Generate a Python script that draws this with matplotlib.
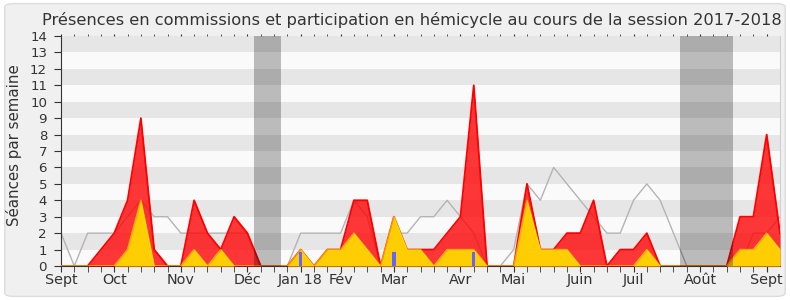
import matplotlib
matplotlib.use("Agg")
import matplotlib.pyplot as plt
from matplotlib.patches import FancyBboxPatch
import numpy as np

# weekly values, session 2017-2018 (week 0 = first week of Sept 2017)
weeks = list(range(55))
commission = [0, 0, 0, 1, 2, 4, 9, 1, 0, 0, 4, 2, 1, 3, 2, 0, 0, 0, 1, 0,
              1, 1, 4, 4, 0, 3, 1, 1, 1, 2, 3, 11, 0, 0, 0, 5, 1, 1, 2, 2,
              4, 0, 1, 1, 2, 0, 0, 0, 0, 0, 0, 3, 3, 8, 2]
hemicycle = [0, 0, 0, 0, 0, 1, 4, 0, 0, 0, 1, 0, 1, 0, 0, 0, 0, 0, 1, 0,
             1, 1, 2, 1, 0, 3, 1, 1, 0, 1, 1, 1, 0, 0, 0, 4, 1, 1, 1, 0,
             0, 0, 0, 0, 1, 0, 0, 0, 0, 0, 0, 1, 1, 2, 1]
median = [2, 0, 2, 2, 2, 3, 4, 3, 3, 2, 2, 2, 2, 2, 2, 0, 0, 0, 2, 2,
          2, 2, 4, 3, 0, 2, 2, 3, 3, 4, 3, 2, 0, 0, 1, 5, 4, 6, 5, 4,
          3, 2, 2, 4, 5, 4, 2, 0, 0, 0, 0, 0, 2, 2, 3]
question_weeks = [18, 25, 31]
question_heights = [0.87, 0.87, 0.87]
holidays = [(14.5, 16.5), (46.5, 50.5)]
month_pos = [0, 4, 9, 14, 18, 21, 25, 30, 34, 39, 43, 48, 53]
month_labels = ["Sept", "Oct", "Nov", "Déc", "Jan 18", "Fév", "Mar", "Avr",
                "Mai", "Juin", "Juil", "Août", "Sept"]

W, H = 790, 300
fig = plt.figure(figsize=(W / 100, H / 100), dpi=100, facecolor="white")
fig.patches.append(FancyBboxPatch((0.006, 0.012), 0.988, 0.976,
                                  boxstyle="round,pad=0,rounding_size=0.012",
                                  transform=fig.transFigure, facecolor="#f0f0f0",
                                  edgecolor="#dcdcdc", lw=1, zorder=-10))

ax = fig.add_axes([61 / W, 34 / H, (780 - 61) / W, (266 - 36) / H])
ax.set_facecolor("#fafafa")
for k in range(7):
    ax.axhspan(2 * k + 1, 2 * k + 2, color="#e6e6e6", lw=0, zorder=0)

x = np.array(weeks)
ax.plot(x, median, color="#b4b4b4", lw=1, zorder=2)
ax.fill_between(x, commission, color="#ff0000", alpha=0.78, lw=0, zorder=3)
ax.plot(x, commission, color="#ff0000", lw=1.3, zorder=4)
ax.fill_between(x, hemicycle, color="#ffd700", alpha=0.95, lw=0, zorder=5)
ax.plot(x, hemicycle, color="#ffee00", lw=1.1, alpha=0.6, zorder=6)
ax.bar(question_weeks, question_heights, width=0.25, color="#6464ff", zorder=7)
for a, b in holidays:
    ax.axvspan(a, b, color="black", alpha=0.25, lw=0, zorder=8)

ax.set_xlim(0, 54)
ax.set_ylim(0, 14)
ax.set_yticks(range(15))
ax.tick_params(axis="y", labelsize=9.6, length=5, color="#333333", labelcolor="#333333", pad=5)
ax.set_xticks(month_pos)
ax.set_xticklabels(month_labels)
ax.set_xticks(range(54), minor=True)
ax.tick_params(axis="x", which="both", length=4, color="#333333", top=True,
               labelsize=10.4, labelcolor="#333333", pad=1)
for t in ax.xaxis.get_major_ticks() + ax.xaxis.get_minor_ticks():
    t.tick2line.set_markersize(1.5)

ax.spines["top"].set_visible(False)
ax.spines["right"].set_color("#d0d0d0")
ax.spines["left"].set_color("#333333")
ax.spines["bottom"].set_color("#333333")

fig.text(412 / W, 1 - 20 / H,
         "Présences en commissions et participation en hémicycle au cours de la session 2017-2018",
         ha="center", va="center", fontsize=11.7, color="#333333")
fig.text(14 / W, 1 - 145 / H, "Séances par semaine", rotation=90,
         ha="center", va="center", fontsize=10.8, color="#333333")

fig.savefig("out.png", dpi=100, facecolor=fig.get_facecolor())
